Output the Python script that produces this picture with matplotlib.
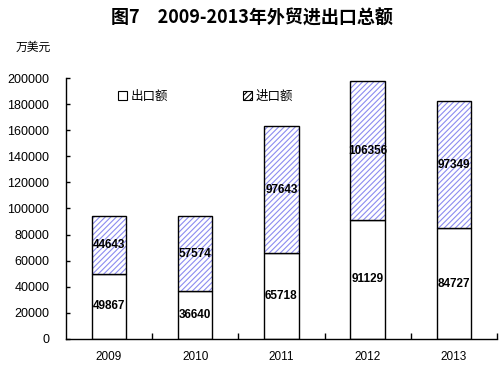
import numpy as np
import matplotlib.pyplot as plt
from matplotlib.patches import Patch

plt.rcParams['font.family'] = ['Liberation Sans', 'Noto Sans CJK SC', 'DejaVu Sans']
plt.rcParams['hatch.linewidth'] = 0.8

# données
annees = ['2009', '2010', '2011', '2012', '2013']
export = [49867, 36640, 65718, 91129, 84727]
importation = [44643, 57574, 97643, 106356, 97349]

hatch_col = '#8c8cf0'

fig = plt.figure(figsize=(5.03, 3.68), dpi=100)
ax = fig.add_axes([0.131, 0.079, 0.857, 0.709])

x = np.arange(len(annees))
w = 0.4

# exportations (blanc)
ax.bar(x, export, w, color='white', edgecolor='black', linewidth=1.0, zorder=2)
# importations : hachures bleues, puis contour noir
ax.bar(x, importation, w, bottom=export, color='white', edgecolor=hatch_col,
       hatch='//////', linewidth=0, zorder=2)
ax.bar(x, importation, w, bottom=export, fill=False, edgecolor='black',
       linewidth=1.0, zorder=3)

for i in range(len(annees)):
    ax.text(x[i], export[i] / 2, str(export[i]), ha='center', va='center',
            fontsize=8.5, fontweight='bold', zorder=4)
    ax.text(x[i], export[i] + importation[i] / 2, str(importation[i]),
            ha='center', va='center', fontsize=8.5, fontweight='bold', zorder=4)

ax.set_xlim(-0.5, len(annees) - 0.5)
ax.set_ylim(0, 200000)
ax.set_yticks(np.arange(0, 200001, 20000))
ax.set_xticks(x)
ax.set_xticklabels(annees)
ax.set_xticks(np.arange(0.5, len(annees), 1), minor=True)
ax.tick_params(axis='x', which='major', length=0, pad=9, labelsize=8.5)
ax.tick_params(axis='x', which='minor', length=4, direction='in', width=1)
ax.tick_params(axis='y', length=3, direction='in', width=1, labelsize=9, pad=12)
ax.spines['top'].set_visible(False)
ax.spines['right'].set_visible(False)
ax.spines['left'].set_linewidth(1)
ax.spines['bottom'].set_linewidth(1)

handles = [Patch(facecolor='white', edgecolor='black', linewidth=0.8),
           Patch(facecolor='white', edgecolor=hatch_col, hatch='//////', linewidth=0.8)]
leg = ax.legend(handles, ['出口额', '进口额'], ncol=2, frameon=False,
                loc='center left', bbox_to_anchor=(0.095, 0.927),
                handlelength=0.7, handleheight=0.7, handletextpad=0.3,
                columnspacing=6.0, fontsize=9)
leg.legend_handles[1].set_edgecolor('black')

fig.text(0.5, 0.95, '图7　2009-2013年外贸进出口总额', ha='center', va='center',
         fontsize=13, fontweight='bold',
         family=['Noto Sans CJK SC', 'DejaVu Sans'])
fig.text(0.03, 0.872, '万美元', ha='left', va='center', fontsize=8.5,
         family=['Noto Sans CJK SC', 'DejaVu Sans'])

fig.savefig('out.png', dpi=100)
